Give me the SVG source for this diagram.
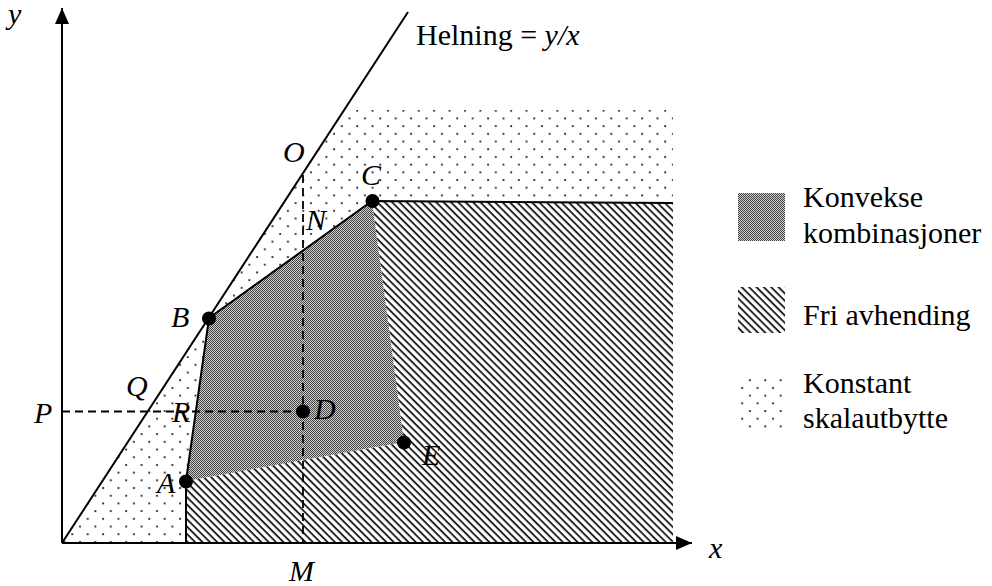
<svg xmlns="http://www.w3.org/2000/svg" width="992" height="586" viewBox="0 0 992 586">
<style>
.t{font-family:"Liberation Serif",Tinos,"Times New Roman",Times,"DejaVu Serif",serif;font-size:30px;fill:#000}
.i{font-style:italic}
.ln{stroke:#000;stroke-width:2;fill:none}
.ds{stroke:#000;stroke-width:1.8;fill:none;stroke-dasharray:8 5}
</style>
<defs>
<pattern id="dots" patternUnits="userSpaceOnUse" width="15.4" height="15.4" x="0" y="0">
<circle cx="3" cy="3" r="1.1" fill="#222"/>
<circle cx="10.7" cy="10.7" r="1.1" fill="#222"/>
</pattern>
<pattern id="hatch" patternUnits="userSpaceOnUse" width="5.2" height="5.2" patternTransform="rotate(45)">
<rect width="5.2" height="5.2" fill="#fff"/>
<rect width="5.2" height="1.9" fill="#222"/>
</pattern>
<pattern id="check" patternUnits="userSpaceOnUse" width="2" height="2">
<rect width="2" height="2" fill="#cfcfcf"/>
<rect width="1" height="1" fill="#444"/>
<rect x="1" y="1" width="1" height="1" fill="#444"/>
</pattern>
<marker id="arr" markerWidth="16" markerHeight="14" refX="16" refY="7" orient="auto" markerUnits="userSpaceOnUse">
<path d="M0,0 L16,7 L0,14 Z" fill="#000"/>
</marker>
</defs>

<g id="regions">
<polygon id="constant-returns" points="62,543 344,110 673,110 673,543" fill="url(#dots)"/>
<polygon id="free-disposal" points="186,481 186,543 673,543 673,203 372,201 404,442" fill="url(#hatch)"/>
<polygon id="convex" points="186,481 209,318 372,201 404,442" fill="url(#check)"/>
</g>

<g id="connectors">
<line class="ln" x1="62" y1="543" x2="62" y2="8" marker-end="url(#arr)"/>
<line class="ln" x1="62" y1="543" x2="692" y2="543" marker-end="url(#arr)"/>
<line class="ln" x1="62" y1="543" x2="408" y2="12"/>
<polyline class="ln" points="186,543 186,481 209,318 372,201 673,203"/>
<line class="ds" x1="62" y1="411.5" x2="303" y2="411.5"/>
<line class="ds" x1="303" y1="175" x2="303" y2="543"/>
</g>

<g id="points">
<circle id="A" cx="186" cy="481.5" r="7"/>
<circle id="B" cx="209" cy="318.5" r="7"/>
<circle id="C" cx="372.5" cy="201" r="7"/>
<circle id="D" cx="303" cy="411.5" r="7"/>
<circle id="E" cx="404" cy="442.5" r="7"/>
</g>

<g id="labels">
<text class="t i" x="8" y="24">y</text>
<text class="t i" x="709" y="558">x</text>
<text class="t" x="416" y="45">Helning = <tspan class="i">y/x</tspan></text>
<text class="t i" x="283" y="162">O</text>
<text class="t i" x="361" y="185">C</text>
<text class="t i" x="306" y="230">N</text>
<text class="t i" x="171" y="327">B</text>
<text class="t i" x="126" y="396">Q</text>
<text class="t i" x="34" y="423">P</text>
<text class="t i" x="172" y="422">R</text>
<text class="t i" x="314" y="419">D</text>
<text class="t i" x="157" y="493">A</text>
<text class="t i" x="422" y="465">E</text>
<text class="t i" x="289" y="581">M</text>
</g>

<g id="legend">
<g id="legend-convex">
<rect x="738" y="193" width="47" height="48" fill="url(#check)"/>
<text class="t" x="803" y="207">Konvekse</text>
<text class="t" x="803" y="243">kombinasjoner</text>
</g>
<g id="legend-free">
<rect x="738" y="287" width="47" height="46" fill="url(#hatch)"/>
<text class="t" x="803" y="325">Fri avhending</text>
</g>
<g id="legend-constant">
<rect x="738" y="378" width="47" height="50" fill="url(#dots)"/>
<text class="t" x="803" y="393">Konstant</text>
<text class="t" x="803" y="428">skalautbytte</text>
</g>
</g>
</svg>
